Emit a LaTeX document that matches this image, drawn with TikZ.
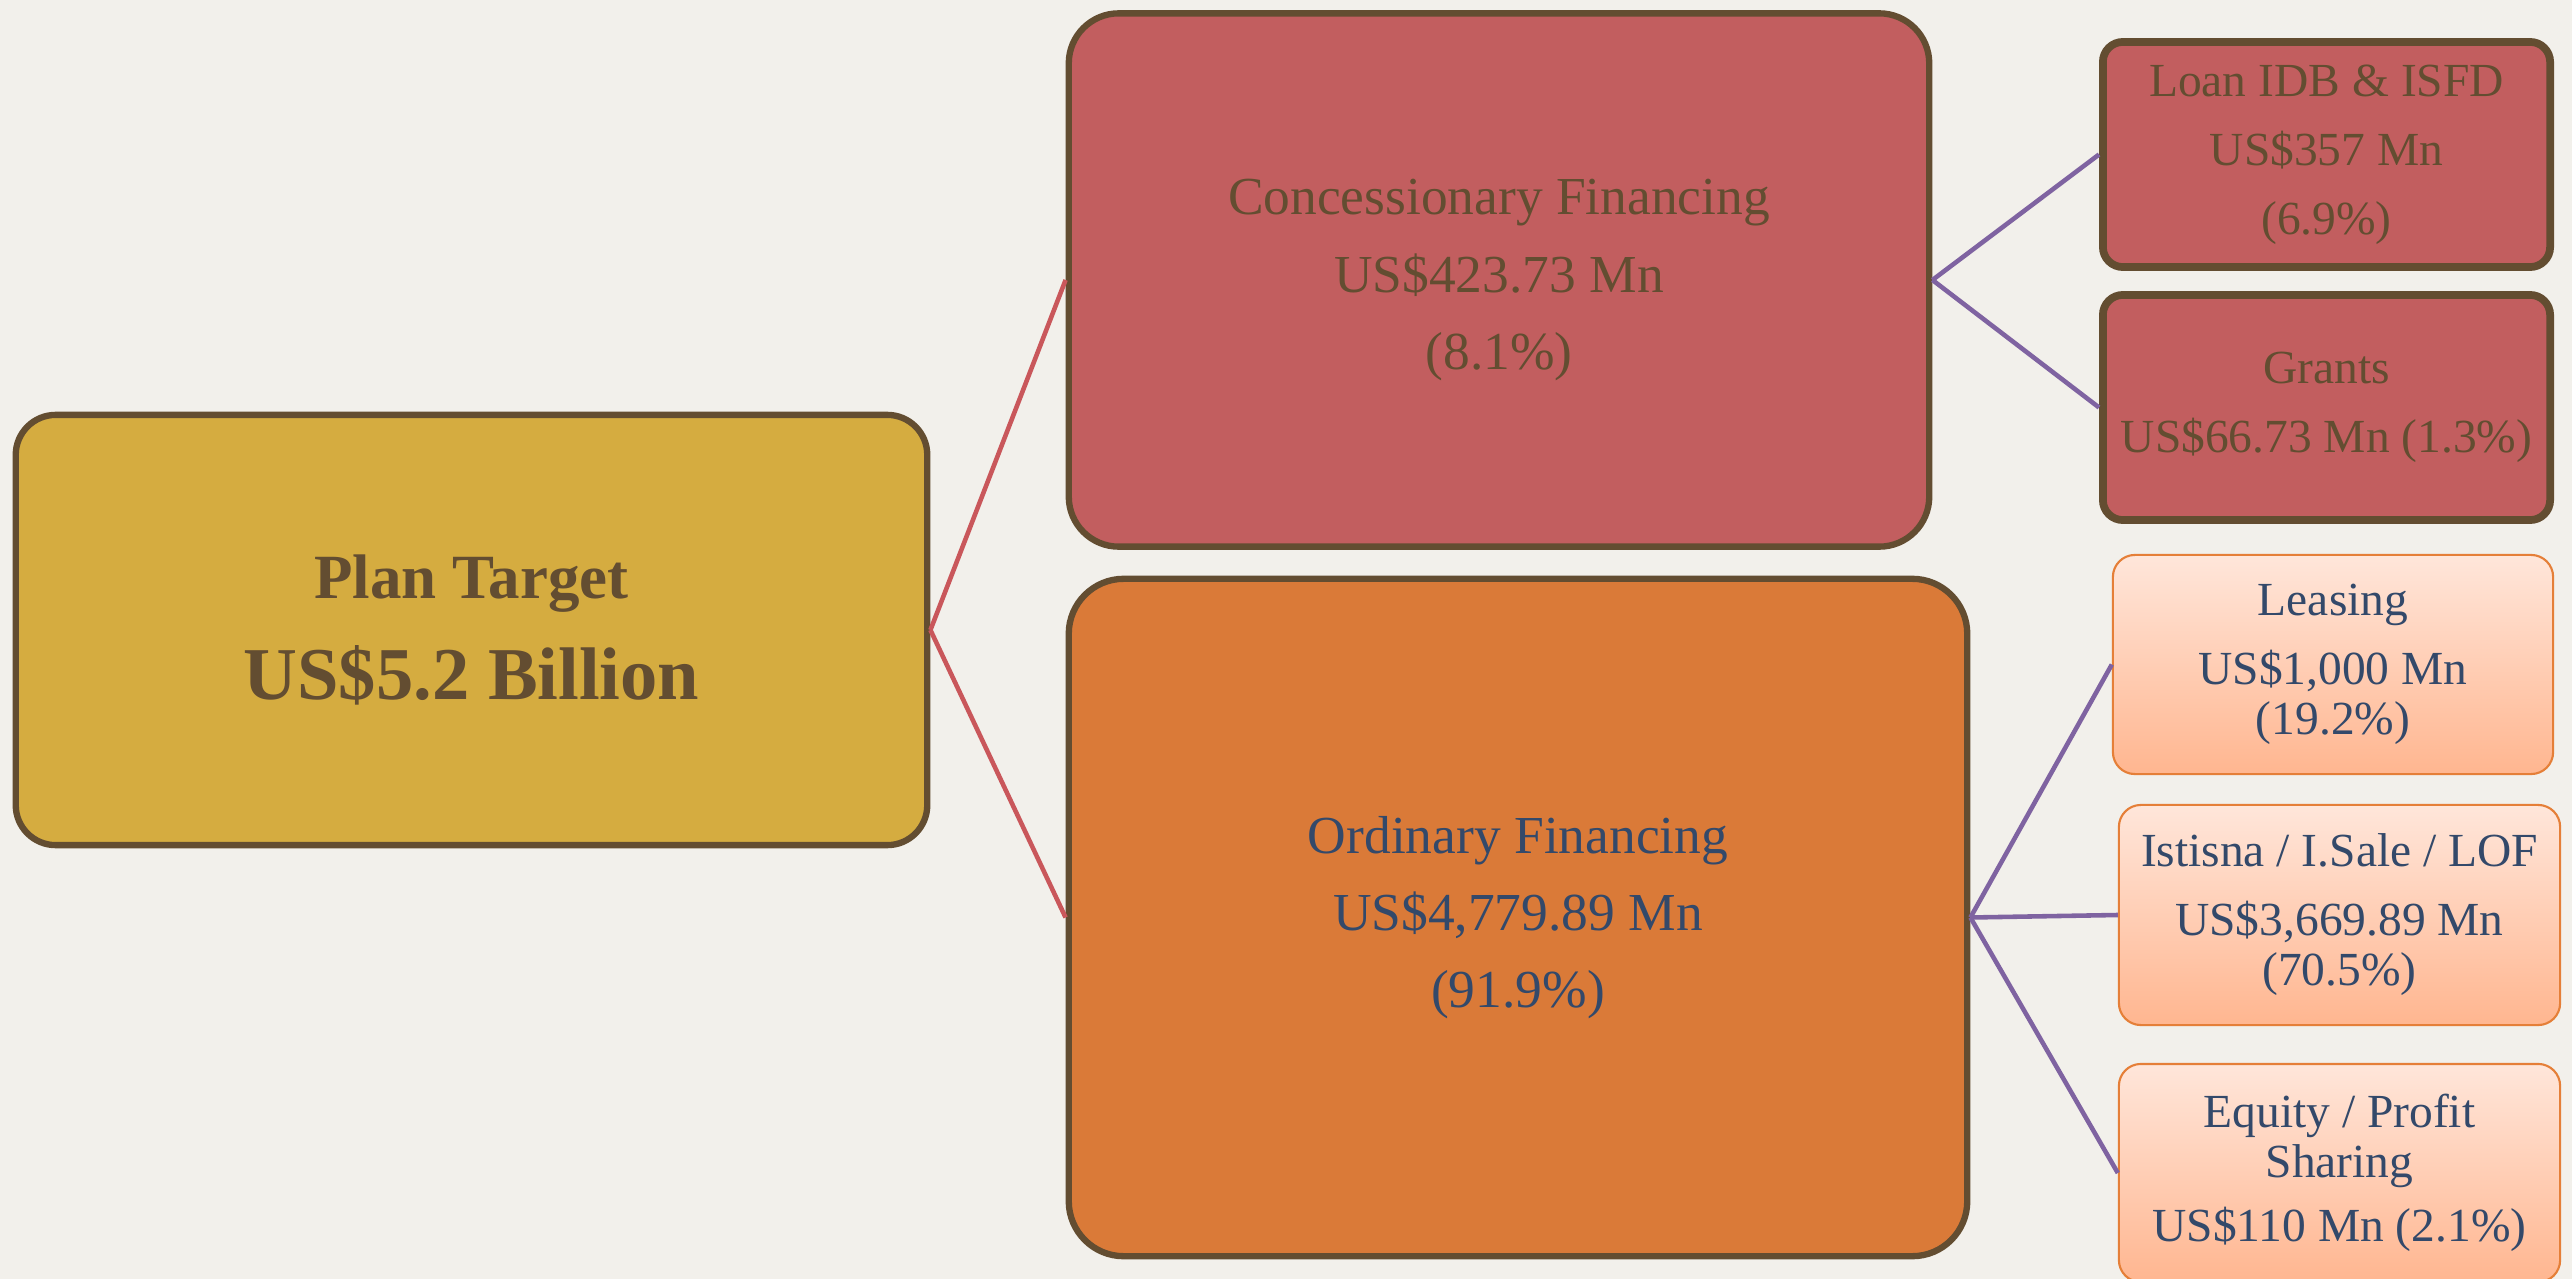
\documentclass[tikz,border=0pt]{standalone}
\usepackage{fontspec}
\setmainfont{Liberation Serif}
\definecolor{paper}{HTML}{F2F0EB}
\definecolor{bark}{HTML}{634D31}
\definecolor{gold}{HTML}{D5AC40}
\definecolor{rose}{HTML}{C25E5F}
\definecolor{tangerine}{HTML}{DA7A38}
\definecolor{navy}{HTML}{33496A}
\definecolor{lilac}{HTML}{7F63A1}
\definecolor{brick}{HTML}{C9575B}
\definecolor{peachtop}{HTML}{FFE6DA}
\definecolor{peachbot}{HTML}{FFB690}
\definecolor{peachline}{HTML}{E57F38}

\begin{document}
\begin{tikzpicture}[x=0.01cm,y=-0.01cm]
\tikzset{box/.style = {shape=rectangle,draw=bark,line width=1.8pt,align=center}}
\tikzset{bigbox/.style = {box,rounded corners=0.5cm,font=\fontsize{15.2}{21.9}\selectfont}}
\tikzset{redbox/.style = {box,fill=rose,text=bark,rounded corners=0.2cm,line width=2.2pt,inner xsep=2pt,minimum width=4.47cm,minimum height=2.25cm,font=\fontsize{13.5}{19.6}\selectfont}}
\tikzset{peachbox/.style = {shape=rectangle,rounded corners=0.22cm,draw=peachline,line width=0.6pt,top color=peachtop,bottom color=peachbot,text=navy,inner xsep=2pt,minimum width=4.41cm,minimum height=2.2cm,align=center,font=\fontsize{13.5}{14.2}\selectfont}}
\tikzset{trunk/.style = {draw=brick,line width=1.3pt}}
\tikzset{twig/.style = {draw=lilac,line width=1.3pt}}
\fill[paper] (0,0) rectangle (2572,1279);
\useasboundingbox (0,0) rectangle (2572,1279);
\clip (0,0) rectangle (2572,1279);
\node[bigbox,fill=gold,text=bark,rounded corners=0.4cm,minimum width=9.11cm,minimum height=4.3cm,font=\bfseries\fontsize{21.2}{28.5}\selectfont](p) at (471.5, 630) {{\fontsize{17.9}{28.5}\selectfont Plan Target}\\US\$5.2 Billion};
\node[bigbox,fill=rose,text=bark,minimum width=8.6cm,minimum height=5.33cm](c) at (1499, 280) {Concessionary Financing\\US\$423.73 Mn\\(8.1\%)};
\node[bigbox,fill=tangerine,text=navy,rounded corners=0.55cm,minimum width=8.98cm,minimum height=6.77cm](o) at (1518, 917.5) {Ordinary Financing\\US\$4,779.89 Mn\\(91.9\%)};
\node[redbox](l) at (2326.5, 154.5) {Loan IDB \& ISFD\\US\$357 Mn\\(6.9\%)};
\node[redbox](g) at (2326.5, 407.5) {Grants\\US\$66.73 Mn (1.3\%)};
\node[peachbox,minimum width=4.4cm,minimum height=2.19cm](le) at (2333, 664.5) {Leasing\\[5.4pt]US\$1,000 Mn\\(19.2\%)};
\node[peachbox](is) at (2339.5, 915) {Istisna / I.Sale / LOF\\[5.4pt]US\$3,669.89 Mn\\(70.5\%)};
\node[peachbox,minimum height=2.18cm](eq) at (2339.5, 1173) {Equity / Profit\\Sharing\\[4pt]US\$110 Mn (2.1\%)};
\draw[trunk] (p.east) -- (c.west);
\draw[trunk] (p.east) -- (o.west);
\draw[twig] (c.east) -- (l.west);
\draw[twig] (c.east) -- (g.west);
\draw[twig] (o.east) -- (le.west);
\draw[twig] (o.east) -- (is.west);
\draw[twig] (o.east) -- (eq.west);
\end{tikzpicture}
\end{document}
